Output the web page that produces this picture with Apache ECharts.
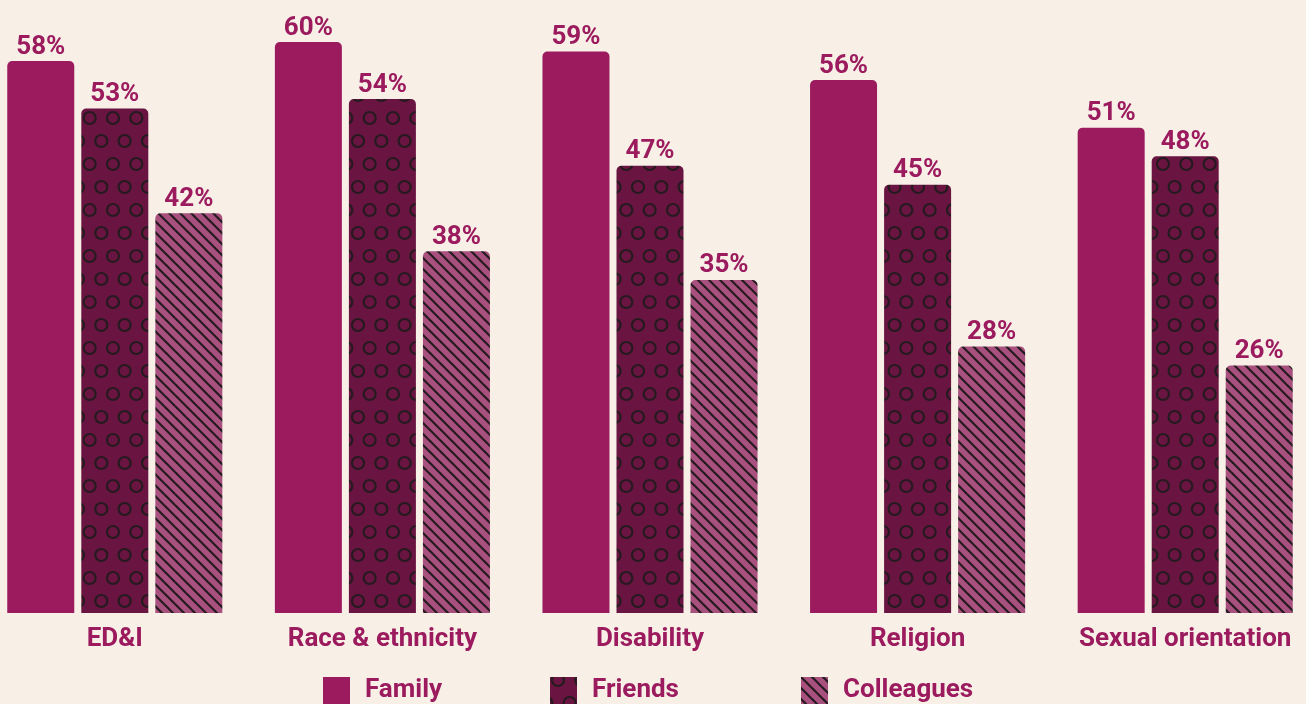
<!DOCTYPE html>
<html>
<head>
<meta charset="utf-8">
<script src="https://cdn.jsdelivr.net/npm/echarts@6/dist/echarts.min.js"></script>
<style>
html,body{margin:0;padding:0;background:#F8F0E7;}
#chart{width:1306px;height:704px;}
</style>
</head>
<body>
<div id="chart"></div>
<script>
const categories = ['ED&I', 'Race & ethnicity', 'Disability', 'Religion', 'Sexual orientation'];
const family = [58, 60, 59, 56, 51];
const friends = [53, 54, 47, 45, 48];
const colleagues = [42, 38, 35, 28, 26];

const C_FAMILY = '#9B1B5E';
const C_FRIENDS = '#6A1541';
const C_COLL = '#A8517F';
const C_INK = '#251A1F';
const C_TEXT = '#9B1B5E';

function circlePattern() {
  const w = 23.3, h = 46;
  const c = document.createElement('canvas');
  c.width = Math.round(w * 3); c.height = h;
  const ctx = c.getContext('2d');
  ctx.fillStyle = C_FRIENDS;
  ctx.fillRect(0, 0, c.width, c.height);
  ctx.strokeStyle = C_INK;
  ctx.lineWidth = 2.2;
  const pts = [];
  for (let i = -1; i <= 3; i++) {
    pts.push([i * w + 8, 3]);
    pts.push([i * w + 8 + w / 2, 26]);
    pts.push([i * w + 8, 49]);
  }
  pts.forEach(p => {
    ctx.beginPath();
    ctx.arc(p[0], p[1], 6, 0, Math.PI * 2);
    ctx.stroke();
  });
  return c;
}

function stripePattern() {
  const p = 11;
  const c = document.createElement('canvas');
  c.width = p; c.height = p;
  const ctx = c.getContext('2d');
  ctx.fillStyle = C_COLL;
  ctx.fillRect(0, 0, p, p);
  ctx.strokeStyle = C_INK;
  ctx.lineWidth = 2.2;
  [[-p, 0], [0, 0], [p, 0]].forEach(o => {
    ctx.beginPath();
    ctx.moveTo(o[0] - 1, o[1] - 1);
    ctx.lineTo(o[0] + p + 1, o[1] + p + 1);
    ctx.stroke();
  });
  return c;
}

const friendsFill = { image: circlePattern(), repeat: 'repeat' };
const collFill = { image: stripePattern(), repeat: 'repeat' };

const FONT = 'Roboto';
const FS = 26;
const labelCfg = {
  show: true, position: 'top', distance: 1,
  formatter: '{c}%', color: C_TEXT, fontFamily: FONT, fontWeight: 'bold', fontSize: FS
};

function mkLegend(name, left) {
  return {
    data: [name], left: left, top: 672, itemWidth: 27, itemHeight: 27, icon: 'rect',
    selectedMode: false,
    textStyle: { color: C_TEXT, fontFamily: FONT, fontWeight: 'bold', fontSize: FS, padding: [0, 0, 0, 10] }
  };
}

const chart = echarts.init(document.getElementById('chart'), null, { renderer: 'canvas' });
chart.setOption({
  backgroundColor: '#F8F0E7',
  animation: false,
  grid: { left: -19, width: 1338, top: 42, bottom: 91, containLabel: false, outerBoundsMode: 'none' },
  legend: [mkLegend('Family', 318), mkLegend('Friends', 545), mkLegend('Colleagues', 796)],
  xAxis: {
    type: 'category', data: categories,
    axisLine: { show: false }, axisTick: { show: false },
    axisLabel: { color: C_TEXT, fontFamily: FONT, fontWeight: 'bold', fontSize: FS, margin: 13, interval: 0 }
  },
  yAxis: { type: 'value', min: 0, max: 60, show: false, splitLine: { show: false } },
  series: [
    { name: 'Family', type: 'bar', data: family, barWidth: 67, barGap: '10.5%',
      itemStyle: { color: C_FAMILY, borderRadius: [5, 5, 0, 0] }, label: labelCfg },
    { name: 'Friends', type: 'bar', data: friends, barWidth: 67, barGap: '10.5%',
      itemStyle: { color: friendsFill, borderRadius: [5, 5, 0, 0] }, label: labelCfg },
    { name: 'Colleagues', type: 'bar', data: colleagues, barWidth: 67, barGap: '10.5%',
      itemStyle: { color: collFill, borderRadius: [5, 5, 0, 0] }, label: labelCfg }
  ]
});
</script>
</body>
</html>
